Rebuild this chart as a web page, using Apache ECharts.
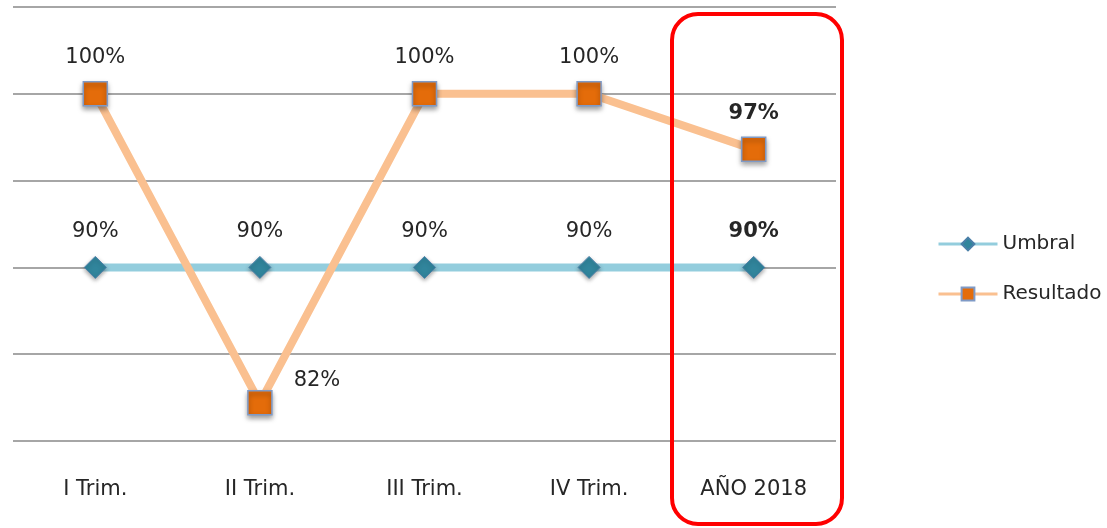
<!DOCTYPE html>
<html>
<head>
<meta charset="utf-8">
<script src="https://cdn.jsdelivr.net/npm/echarts@6/dist/echarts.min.js"></script>
<style>html,body{margin:0;padding:0;background:#fff}#c{width:1107px;height:528px}</style>
</head>
<body>
<div id="c"></div>
<script>
var categories = ['I Trim.', 'II Trim.', 'III Trim.', 'IV Trim.', 'AÑO 2018'];
var umbral = [90, 90, 90, 90, 90];
var resultado = [100, 82.2, 100, 100, 96.8];
var resultadoLabels = ['100%', '82%', '100%', '100%', '97%'];
var umbralLabels = ['90%', '90%', '90%', '90%', '90%'];
var yMin = 80, yMax = 105, yStep = 5;

var FONT = 'DejaVu Sans';
var TXT = '#262626';
var FS = 21;

var chart = echarts.init(document.getElementById('c'), null, {renderer: 'canvas'});

var umbralData = umbral.map(function (v, i) {
  return {
    value: v,
    label: {formatter: umbralLabels[i], fontWeight: i === 4 ? 'bold' : 'normal'}
  };
});
var resultadoData = resultado.map(function (v, i) {
  var lab = {formatter: resultadoLabels[i], fontWeight: i === 4 ? 'bold' : 'normal'};
  if (i === 1) { lab.position = 'right'; lab.distance = 21; lab.offset = [0, -22]; }
  return {value: v, label: lab};
});

chart.setOption({
  animation: false,
  textStyle: {fontFamily: FONT},
  grid: {left: 13, right: 271, top: 7, bottom: 87, containLabel: false},
  legend: {
    orient: 'vertical',
    left: 932,
    top: 229,
    itemWidth: 59,
    itemHeight: 16,
    itemGap: 30,
    textStyle: {fontFamily: FONT, fontSize: 20, color: TXT},
    lineStyle: {width: 3},
    data: ['Umbral', 'Resultado']
  },
  xAxis: {
    type: 'category',
    data: categories,
    boundaryGap: true,
    axisLine: {show: false},
    axisTick: {show: false},
    axisLabel: {fontFamily: FONT, fontSize: FS, color: TXT, margin: 38}
  },
  yAxis: {
    type: 'value',
    min: yMin,
    max: yMax,
    interval: yStep,
    axisLine: {show: false},
    axisTick: {show: false},
    axisLabel: {show: false},
    splitLine: {lineStyle: {color: '#a6a6a6', width: 2}}
  },
  series: [
    {
      name: 'Umbral',
      type: 'line',
      data: umbralData,
      symbol: 'diamond',
      symbolSize: 22,
      lineStyle: {color: '#93CDDD', width: 8},
      itemStyle: {color: '#31859C', borderColor: '#4a7fa8', borderWidth: 1,
        shadowBlur: 4, shadowColor: 'rgba(0,0,0,0.35)', shadowOffsetY: 2},
      label: {show: true, position: 'top', distance: 14, fontFamily: FONT, fontSize: FS, color: TXT},
      z: 2
    },
    {
      name: 'Resultado',
      type: 'line',
      data: resultadoData,
      symbol: 'rect',
      symbolSize: 24,
      lineStyle: {color: '#FAC090', width: 8},
      itemStyle: {color: '#E46C0A', borderColor: '#7f9ac6', borderWidth: 1.5,
        shadowBlur: 5, shadowColor: 'rgba(0,0,0,0.4)', shadowOffsetY: 3},
      label: {show: true, position: 'top', distance: 13, fontFamily: FONT, fontSize: FS, color: TXT},
      z: 3
    }
  ],
  graphic: [
    {
      type: 'rect',
      z: 100,
      shape: {x: 672, y: 14, width: 170, height: 510, r: 26},
      style: {fill: 'none', stroke: '#ff0000', lineWidth: 4}
    }
  ]
});
</script>
</body>
</html>
